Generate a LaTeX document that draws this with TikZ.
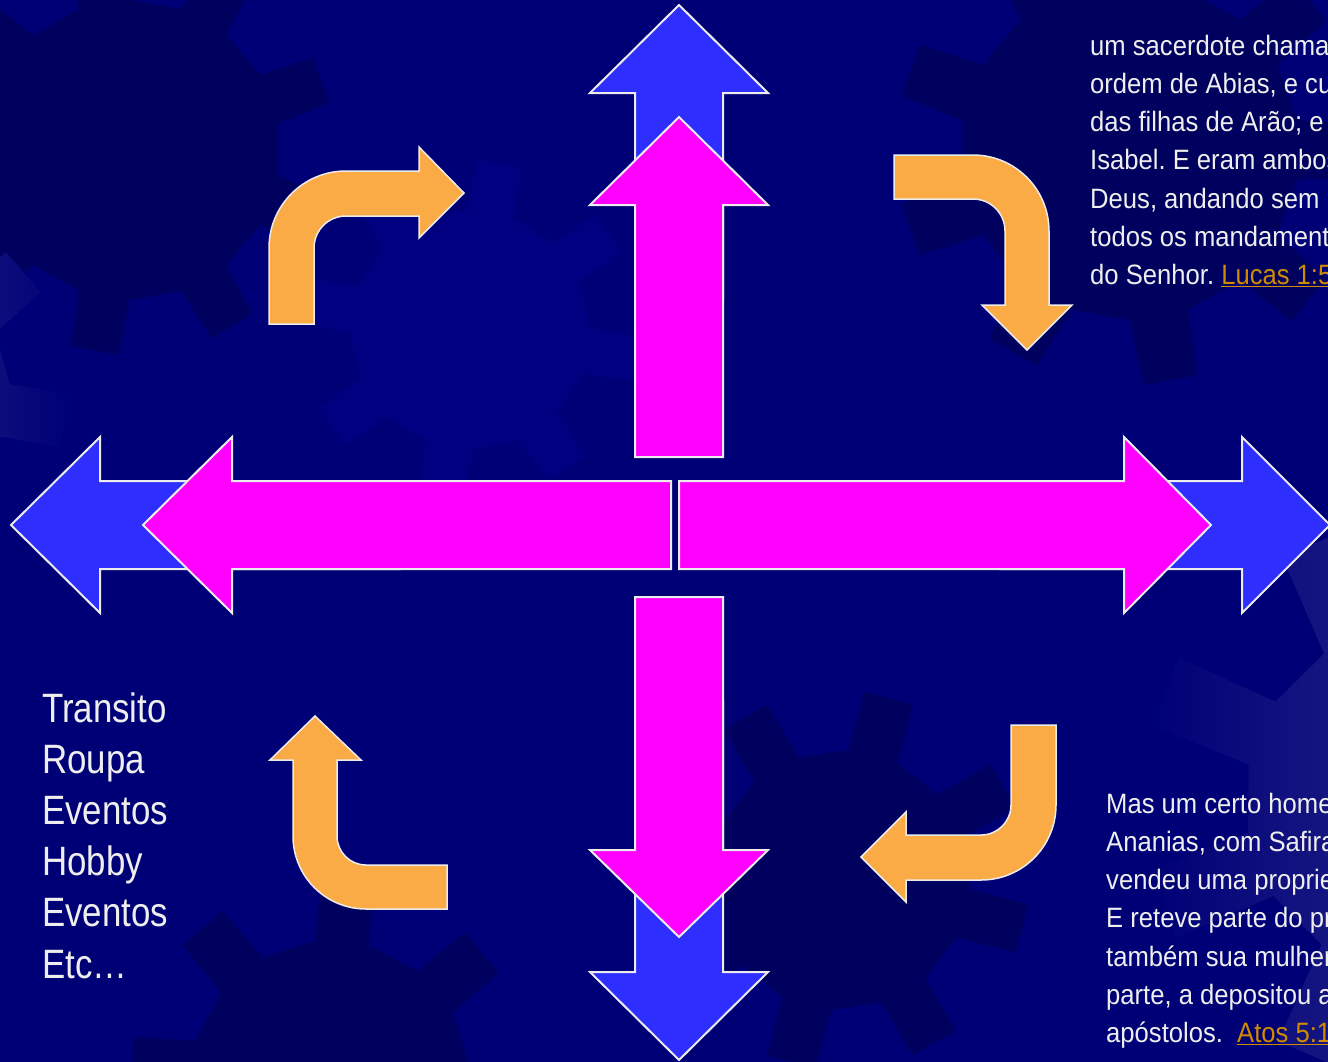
\documentclass[tikz,border=0pt]{standalone}
\usepackage{fontspec}
\setmainfont{Liberation Sans}
\newfontfamily\listfont[FakeStretch=0.85]{Liberation Sans}
\newfontfamily\versefont[FakeStretch=0.915]{Liberation Sans}
\frenchspacing

\definecolor{slidebg}{RGB}{0,0,118}
\definecolor{geardark}{RGB}{0,0,94}
\definecolor{gearlight}{RGB}{0,0,128}
\definecolor{gearglow}{RGB}{64,64,152}
\definecolor{arrowblue}{RGB}{46,46,255}
\definecolor{arrowpink}{RGB}{255,0,255}
\definecolor{arroworange}{RGB}{250,171,70}
\definecolor{rim}{RGB}{236,236,236}
\definecolor{paper}{RGB}{238,238,238}
\definecolor{linkgold}{RGB}{208,140,0}

\newcommand{\reflink}[1]{\textcolor{linkgold}{\underline{#1}}}

% #1 centre, #2 inner radius, #3 outer radius, #4 teeth, #5 turn, #6 style
\newcommand{\cogwheel}[6]{%
	\path[#6,shift={(#1)}] ({#5-90/#4}:#2)
		\foreach \k [evaluate=\k as \t using {#5+360*(\k-1)/#4}] in {1,...,#4} {
			-- ({\t-60/#4}:#3) -- ({\t+60/#4}:#3) -- ({\t+90/#4}:#2) -- ({\t+270/#4}:#2)
		} -- cycle;}

\begin{document}
\begin{tikzpicture}[x=1pt,y=-1pt]
	\tikzstyle{blue arrow}=[fill=arrowblue,draw=rim,line width=2pt,line join=miter]
	\tikzstyle{pink arrow}=[fill=arrowpink,draw=rim,line width=2pt,line join=miter]
	\tikzstyle{turn arrow}=[fill=arroworange,draw=rim,line width=1.5pt,line join=miter]
	\tikzstyle{list item}=[anchor=base west,inner sep=0pt,text=paper,font={\listfont\fontsize{41}{49}\selectfont}]
	\tikzstyle{verse}=[anchor=base west,inner sep=0pt,text=paper,font={\versefont\fontsize{28}{34}\selectfont}]

	\useasboundingbox (0,0) rectangle (1328,1061);
	\clip (-4,-4) rectangle (1332,1065);
	\fill[slidebg] (-4,-4) rectangle (1332,1065);

	% background cogs
	\cogwheel{130,150}{150}{205}{9}{20}{fill=geardark}
	\cogwheel{470,330}{120}{170}{8}{10}{fill=gearlight}
	\cogwheel{1130,150}{170}{235}{9}{0}{fill=geardark}
	\cogwheel{840,880}{130}{190}{8}{15}{fill=geardark}
	\cogwheel{330,1080}{140}{200}{8}{5}{fill=geardark}
	\cogwheel{1420,800}{175}{280}{8}{23}{left color=slidebg,right color=gearglow}
	\cogwheel{-110,390}{120}{180}{7}{10}{left color=gearglow,right color=slidebg}

	% blue arrows behind
	\draw[blue arrow] (679,5) -- (768,93) -- (723,93) -- (723,300) -- (635,300) -- (635,93) -- (590,93) -- cycle;
	\draw[blue arrow] (679,1060) -- (768,972) -- (723,972) -- (723,700) -- (635,700) -- (635,972) -- (590,972) -- cycle;
	\draw[blue arrow] (11,525) -- (100,437) -- (100,481) -- (400,481) -- (400,569) -- (100,569) -- (100,613) -- cycle;
	\draw[blue arrow] (1330,525) -- (1242,437) -- (1242,481) -- (1000,481) -- (1000,569) -- (1242,569) -- (1242,613) -- cycle;

	% pink arrows in front
	\draw[pink arrow] (679,117) -- (768,205) -- (723,205) -- (723,457) -- (635,457) -- (635,205) -- (590,205) -- cycle;
	\draw[pink arrow] (679,937) -- (768,850) -- (723,850) -- (723,597) -- (635,597) -- (635,850) -- (590,850) -- cycle;
	\draw[pink arrow] (143,525) -- (232,437) -- (232,481) -- (671,481) -- (671,569) -- (232,569) -- (232,613) -- cycle;
	\draw[pink arrow] (1211,525) -- (1124,437) -- (1124,481) -- (679,481) -- (679,569) -- (1124,569) -- (1124,613) -- cycle;

	% bent arrows
	\draw[turn arrow] (269,324) -- (269,248) arc[start angle=180,end angle=270,radius=77]
		-- (419,171) -- (419,147) -- (464,193) -- (419,238) -- (419,216) -- (346,216)
		arc[start angle=270,end angle=180,radius=32] -- (314,324) -- cycle;
	\draw[turn arrow] (894,155) -- (973,155) arc[start angle=270,end angle=360,radius=76]
		-- (1049,305) -- (1072,305) -- (1027,350) -- (982,305) -- (1005,305) -- (1005,231)
		arc[start angle=0,end angle=-90,radius=32] -- (894,199) -- cycle;
	\draw[turn arrow] (447,909) -- (366,909) arc[start angle=90,end angle=180,radius=73]
		-- (293,760) -- (270,760) -- (315,716) -- (361,760) -- (337,760) -- (337,836)
		arc[start angle=180,end angle=90,radius=29] -- (447,865) -- cycle;
	\draw[turn arrow] (1011,725) -- (1056,725) -- (1056,805) arc[start angle=0,end angle=90,radius=75]
		-- (906,880) -- (906,902) -- (861,857) -- (906,812) -- (906,835) -- (981,835)
		arc[start angle=90,end angle=0,radius=30] -- cycle;

	% texts
	\foreach \w [count=\i] in {Transito,Roupa,Eventos,Hobby,Eventos,Etc…}
		\node[list item] (item\i) at (42,{722+51.2*(\i-1)}) {\w};

	\foreach \l [count=\i] in {{um sacerdote chamado},{ordem de Abias, e cuja},{das filhas de Arão; e o},{Isabel. E eram ambos},{Deus, andando sem},{todos os mandamentos},{do Senhor. \reflink{Lucas 1:5-6}}}
		\node[verse] (luke\i) at (1090,{55+38.3*(\i-1)}) {\l};

	\foreach \l [count=\i] in {{Mas um certo homem},{Ananias, com Safira,},{vendeu uma propriedade,},{E reteve parte do preço,},{também sua mulher; e,},{parte, a depositou aos},{apóstolos.\ \ \reflink{Atos 5:1-2}}}
		\node[verse] (acts\i) at (1106,{813+38.3*(\i-1)}) {\l};

\end{tikzpicture}
\end{document}
